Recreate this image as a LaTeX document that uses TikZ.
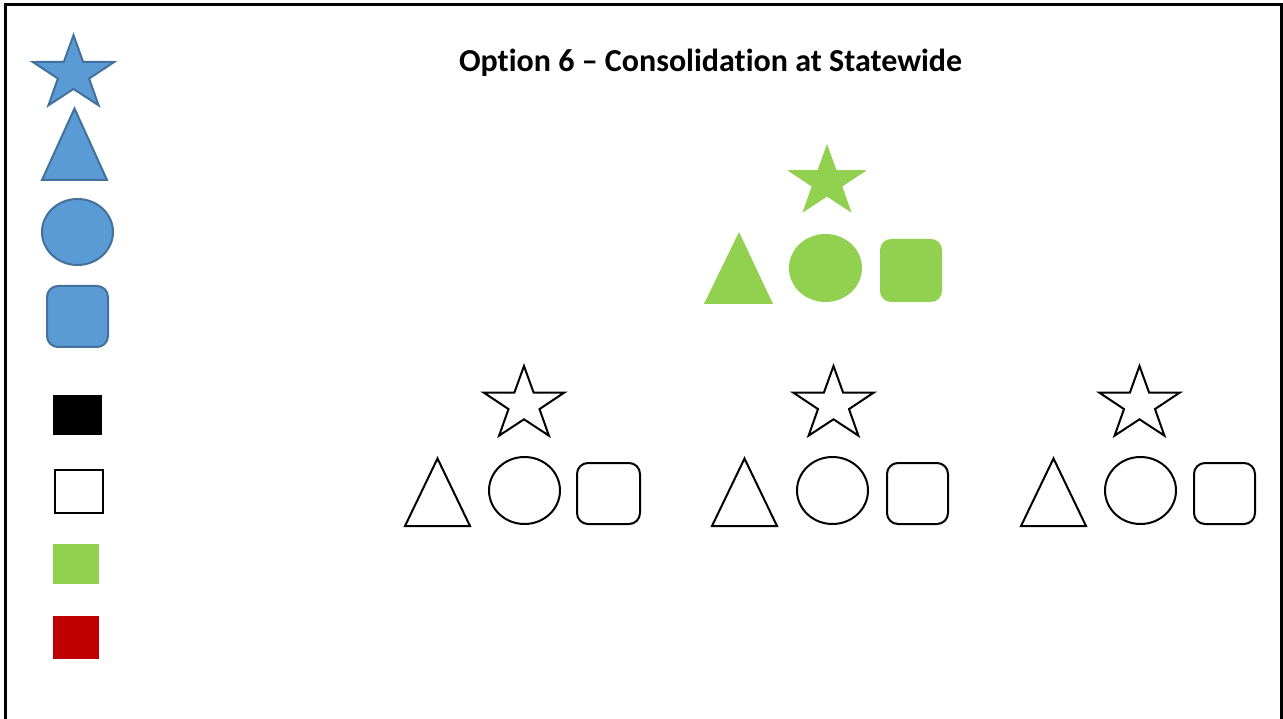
\documentclass[tikz,border=0pt]{standalone}
\usepackage{fontspec}
\setmainfont{Carlito}[Ligatures=NoCommon]
\usetikzlibrary{shapes.geometric}
\definecolor{shapeblue}{HTML}{5B9BD5}
\definecolor{edgeblue}{HTML}{41719C}
\definecolor{shapegreen}{HTML}{92D050}
\definecolor{legendred}{HTML}{C00000}

\begin{document}
\begin{tikzpicture}[x=1pt,y=-1pt,
        blueshape/.style={fill=shapeblue,draw=edgeblue,line width=2pt},
        greenshape/.style={fill=shapegreen},
        plainshape/.style={draw=black,line width=2pt},
        starshape/.style={star,star points=5,star point ratio=2.6,inner sep=0pt,xscale=1.1}]
        \useasboundingbox (0,0) rectangle (1283,719);

        % 绘制边框
        \draw[line width=3pt] (5,719) -- (5,4.5) -- (1281,4.5) -- (1281,719);

        % 标题
        \node[anchor=base,font=\bfseries\fontsize{32}{38}\selectfont] (title) at (710.5,71.5) {Option 6 – Consolidation at Statewide};

        % 左侧蓝色图形
        \node[starshape,blueshape,minimum size=77.6pt] (bluestar) at (73.5,74) {};
        \draw[blueshape] (42,180) -- (74.5,108.5) -- (107,180) -- cycle;
        \draw[blueshape] (77.5,232) ellipse [x radius=35.5, y radius=33];
        \draw[blueshape,rounded corners=11] (47,286) rectangle (108,347);

        % 图例方块
        \fill[black] (53,395) rectangle (102,435);
        \draw[line width=2pt] (55,470) rectangle (103,513);
        \fill[shapegreen] (53,544) rectangle (99,584);
        \fill[legendred] (53,616) rectangle (99,659);

        % 绿色图形 (全州)
        \node[starshape,greenshape,minimum size=76pt] (greenstar) at (827,182) {};
        \fill[greenshape] (704,304) -- (739,232) -- (773,304) -- cycle;
        \fill[greenshape] (825.5,268) ellipse [x radius=36.5, y radius=34];
        \fill[greenshape,rounded corners=11] (880,239) rectangle (942,302);

        % 第一组
        \node[starshape,plainshape,minimum size=77pt] (starone) at (524,404.5) {};
        \draw[plainshape] (405,526) -- (437.5,458.5) -- (470,526) -- cycle;
        \draw[plainshape] (524.5,490.5) ellipse [x radius=35.5, y radius=33.5];
        \draw[plainshape,rounded corners=11] (577,463) rectangle (640,524);

        % 第二组
        \node[starshape,plainshape,minimum size=77pt] (startwo) at (833.5,404.5) {};
        \draw[plainshape] (712,526) -- (744.5,458.5) -- (777,526) -- cycle;
        \draw[plainshape] (832.5,490.5) ellipse [x radius=35.5, y radius=33.5];
        \draw[plainshape,rounded corners=11] (887,463) rectangle (948,524);

        % 第三组
        \node[starshape,plainshape,minimum size=77pt] (starthree) at (1139.5,404.5) {};
        \draw[plainshape] (1021,526) -- (1053.5,458.5) -- (1086,526) -- cycle;
        \draw[plainshape] (1140.5,490.5) ellipse [x radius=35.5, y radius=33.5];
        \draw[plainshape,rounded corners=11] (1194,463) rectangle (1255,524);
    \end{tikzpicture}
\end{document}
